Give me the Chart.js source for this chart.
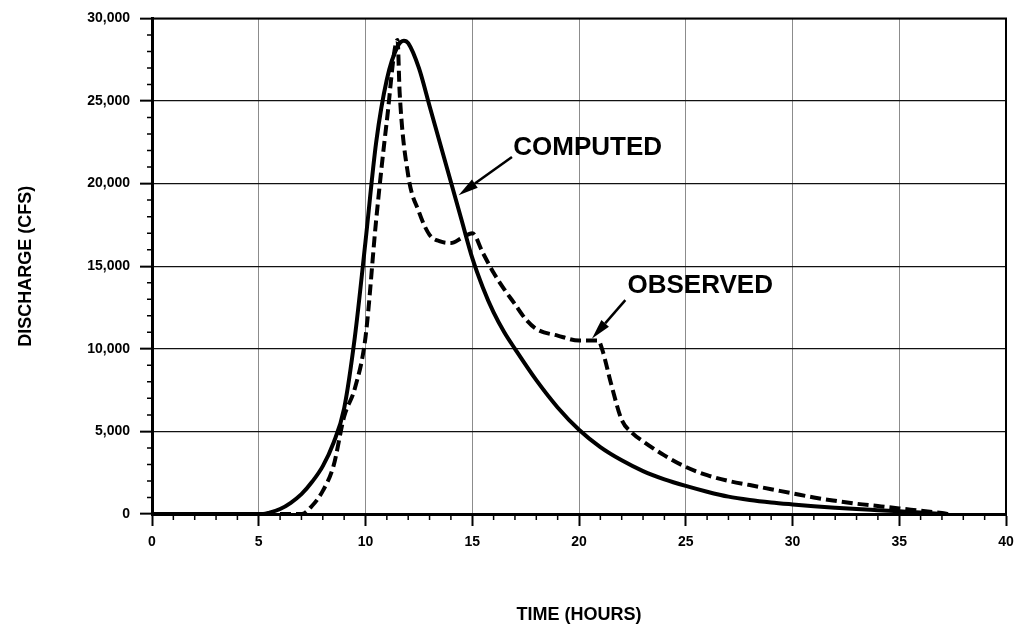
<!DOCTYPE html>
<html>
<head>
<meta charset="utf-8">
<script src="https://cdn.jsdelivr.net/npm/chart.js@4/dist/chart.umd.min.js"></script>
<style>
  body { margin: 0; background: #fff; }
  #wrap { width: 1016px; height: 627px; }
</style>
</head>
<body>
<div id="wrap"><canvas id="hydro"></canvas></div>
<script>
// Hydrograph values (hours, cfs)
const computedTime = [0, 5.2, 5.5, 6, 6.5, 7, 7.5, 8, 8.5, 9, 9.5, 10, 10.5, 11, 11.5, 11.8, 12, 12.5, 13, 13.5, 14, 14.5, 15, 15.5, 16, 16.5, 17, 18, 19, 20, 21, 22, 23, 24, 25, 26, 27, 28, 29, 30, 31, 32, 33, 34, 35, 36, 37];
const computedFlow = [0, 0, 80, 300, 680, 1200, 1950, 2900, 4300, 6400, 10700, 16500, 22500, 26300, 28300, 28650, 28500, 27000, 24700, 22400, 20100, 17800, 15500, 13700, 12200, 11000, 10000, 8100, 6450, 5100, 4050, 3250, 2600, 2100, 1700, 1350, 1050, 850, 700, 580, 470, 380, 300, 230, 160, 90, 0];

const observedTime = [0, 7, 7.5, 8, 8.5, 9, 9.5, 10, 10.5, 11, 11.5, 11.6, 12, 12.5, 13, 13.5, 14, 14.5, 15, 15.5, 16, 16.5, 17, 17.5, 18, 19, 20, 20.9, 21.1, 21.5, 22, 22.5, 23, 24, 25, 26, 27, 28, 29, 30, 31, 32, 33, 34, 35, 36, 37, 37.3];
const observedFlow = [0, 0, 500, 1400, 2900, 5900, 7600, 10700, 17800, 23800, 28700, 25500, 20500, 18300, 16900, 16500, 16400, 16700, 17000, 15800, 14600, 13600, 12700, 11800, 11200, 10800, 10500, 10500, 9900, 7900, 5700, 4900, 4400, 3550, 2850, 2350, 2000, 1750, 1500, 1250, 1000, 800, 620, 480, 340, 200, 60, 0];

const xTicks = [0, 5, 10, 15, 20, 25, 30, 35, 40];
const yTicks = [0, 5000, 10000, 15000, 20000, 25000, 30000];

// callouts: label anchor and arrow (tail -> tip) in data units
const calloutText = ['COMPUTED', 'OBSERVED'];
const calloutLabelAt = [[16.92, 21714], [22.27, 13367]];
const calloutTail = [[16.86, 21610], [22.17, 12944]];
const calloutTip = [[14.36, 19295], [20.61, 10627]];

function toPoints(xs, ys) {
    return xs.map((x, i) => ({ x: x, y: ys[i] }));
}

const extras = {
    id: 'extras',
    afterDraw(chart) {
        const c = chart.ctx;
        const xs = chart.scales.x;
        const ys = chart.scales.y;
        const area = chart.chartArea;
        c.save();

        // frame on top and right
        c.strokeStyle = '#000';
        c.lineWidth = 2;
        c.beginPath();
        c.moveTo(area.left, area.top);
        c.lineTo(area.right, area.top);
        c.lineTo(area.right, area.bottom);
        c.stroke();

        // minor ticks every hour and every 1000 cfs
        c.lineWidth = 1.5;
        c.beginPath();
        for (let t = 1; t < 40; t++) {
            if (t % 5 === 0) continue;
            const px = xs.getPixelForValue(t);
            c.moveTo(px, area.bottom);
            c.lineTo(px, area.bottom + 6);
        }
        for (let v = 1000; v < 30000; v += 1000) {
            if (v % 5000 === 0) continue;
            const py = ys.getPixelForValue(v);
            c.moveTo(area.left - 5, py);
            c.lineTo(area.left, py);
        }
        c.stroke();

        // callouts
        c.fillStyle = '#000';
        c.font = 'bold 26px "Liberation Sans", Arial, sans-serif';
        c.textBaseline = 'alphabetic';
        c.textAlign = 'left';
        calloutText.forEach((txt, i) => {
            c.fillText(txt, xs.getPixelForValue(calloutLabelAt[i][0]), ys.getPixelForValue(calloutLabelAt[i][1]));
            const x0 = xs.getPixelForValue(calloutTail[i][0]);
            const y0 = ys.getPixelForValue(calloutTail[i][1]);
            const x1 = xs.getPixelForValue(calloutTip[i][0]);
            const y1 = ys.getPixelForValue(calloutTip[i][1]);
            const ang = Math.atan2(y1 - y0, x1 - x0);
            const headLen = 20, headHalf = 5;
            const bx = x1 - headLen * Math.cos(ang);
            const by = y1 - headLen * Math.sin(ang);
            c.lineWidth = 2.5;
            c.beginPath();
            c.moveTo(x0, y0);
            c.lineTo(bx, by);
            c.stroke();
            c.beginPath();
            c.moveTo(x1, y1);
            c.lineTo(bx + headHalf * Math.sin(ang), by - headHalf * Math.cos(ang));
            c.lineTo(bx - headHalf * Math.sin(ang), by + headHalf * Math.cos(ang));
            c.closePath();
            c.fill();
        });
        c.restore();
    }
};

const ctx = document.getElementById('hydro').getContext('2d');
const tickFont = { family: '"Liberation Sans", Arial, sans-serif', size: 14, weight: 'bold' };
const titleFont = { family: '"Liberation Sans", Arial, sans-serif', size: 18, weight: 'bold' };

new Chart(ctx, {
    type: 'line',
    data: {
        datasets: [
            {
                label: 'COMPUTED',
                data: toPoints(computedTime, computedFlow),
                borderColor: '#000',
                borderWidth: 4,
                pointRadius: 0,
                cubicInterpolationMode: 'monotone',
                fill: false
            },
            {
                label: 'OBSERVED',
                data: toPoints(observedTime, observedFlow),
                borderColor: '#000',
                borderWidth: 4,
                borderDash: [11, 5],
                pointRadius: 0,
                cubicInterpolationMode: 'monotone',
                fill: false
            }
        ]
    },
    options: {
        responsive: true,
        maintainAspectRatio: false,
        animation: false,
        layout: { padding: { top: 18, right: 10, left: 0, bottom: 0 } },
        plugins: {
            legend: { display: false },
            tooltip: { enabled: false }
        },
        scales: {
            x: {
                type: 'linear',
                min: 0,
                max: 40,
                afterBuildTicks: (scale) => { scale.ticks = xTicks.map(v => ({ value: v })); },
                afterFit: (scale) => {
                    scale.height = 113;
                    scale.paddingLeft = 0;
                    scale.paddingRight = 0;
                },
                ticks: { font: tickFont, color: '#000', padding: 8, maxRotation: 0 },
                grid: { color: '#8c8c8c', lineWidth: 1, tickColor: '#000', tickLength: 12, tickWidth: 2 },
                border: { color: '#000', width: 3 },
                title: { display: true, text: 'TIME (HOURS)', font: titleFont, color: '#000', padding: { bottom: 1, top: 0 } }
            },
            y: {
                min: 0,
                max: 30000,
                afterBuildTicks: (scale) => { scale.ticks = yTicks.map(v => ({ value: v })); },
                afterFit: (scale) => { scale.width = 152; },
                ticks: {
                    font: tickFont,
                    color: '#000',
                    padding: 10,
                    callback: (v) => Number(v).toLocaleString('en-US')
                },
                grid: { color: '#111', lineWidth: 1.3, tickColor: '#000', tickLength: 12, tickWidth: 2 },
                border: { color: '#000', width: 3 },
                title: { display: true, text: 'DISCHARGE (CFS)', font: titleFont, color: '#000', padding: { top: 15, bottom: 0 } }
            }
        }
    },
    plugins: [extras]
});
</script>
</body>
</html>
